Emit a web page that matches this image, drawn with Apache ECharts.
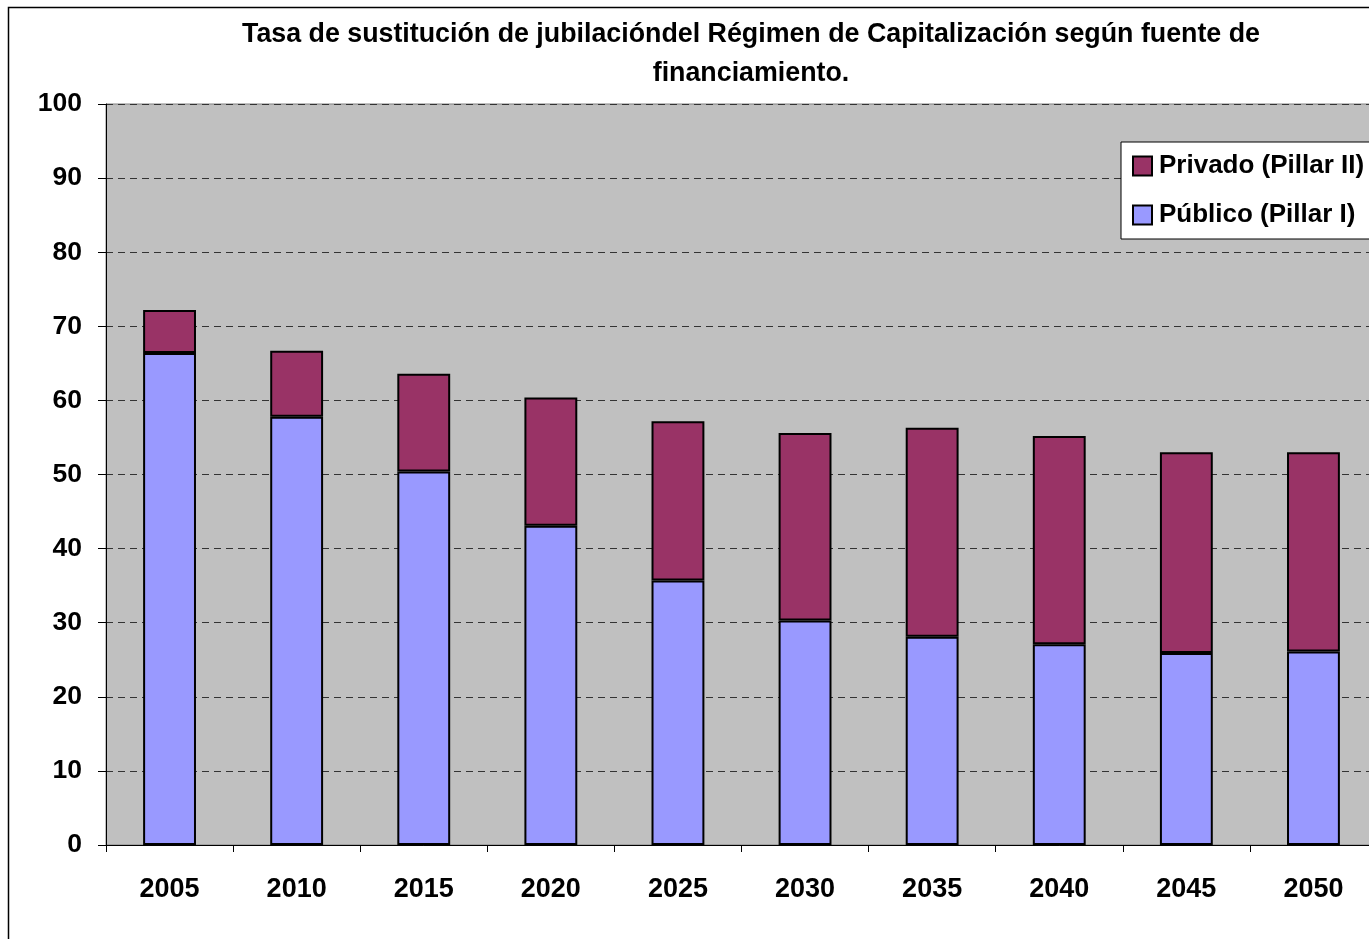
<!DOCTYPE html>
<html>
<head>
<meta charset="utf-8">
<script src="https://cdn.jsdelivr.net/npm/echarts@6/dist/echarts.min.js"></script>
<style>
html, body { margin: 0; padding: 0; background: #fff; overflow: hidden; }
#chart { width: 1377px; height: 939px; }
</style>
</head>
<body>
<div id="chart"></div>
<script>
var years = ['2005', '2010', '2015', '2020', '2025', '2030', '2035', '2040', '2045', '2050'];
// Público (Pillar I)
var publico = [66.4, 57.8, 50.4, 43.1, 35.7, 30.3, 28.1, 27.1, 25.9, 26.1];
// Privado (Pillar II), stacked on top
var privado = [5.8, 8.9, 13.2, 17.3, 21.5, 25.3, 28.2, 28.1, 27.1, 26.9];
var yTicks = [0, 10, 20, 30, 40, 50, 60, 70, 80, 90, 100];

var myChart = echarts.init(document.getElementById('chart'));
var font = 'Liberation Sans, Arial, sans-serif';

var option = {
    animation: false,
    backgroundColor: '#fff',
    title: {
        text: 'Tasa de sustitución de jubilacióndel Régimen de Capitalización según fuente de\nfinanciamiento.',
        left: 746,
        textAlign: 'center',
        top: 10,
        textStyle: {
            fontFamily: font,
            fontWeight: 'bold',
            fontSize: 26.8,
            lineHeight: 39,
            color: '#000'
        }
    },
    graphic: [{
        type: 'rect',
        shape: { x: 8.5, y: 7.5, width: 1400, height: 1000 },
        style: { fill: 'none', stroke: '#000', lineWidth: 1.5 },
        silent: true
    }],
    legend: {
        data: ['Privado (Pillar II)', 'Público (Pillar I)'],
        orient: 'vertical',
        left: 1121,
        top: 142,
        padding: [11, 8, 11, 11],
        itemGap: 23,
        itemWidth: 19,
        itemHeight: 19,
        icon: 'rect',
        backgroundColor: '#fff',
        borderColor: '#000',
        borderWidth: 1,
        textStyle: {
            fontFamily: font,
            fontWeight: 'bold',
            fontSize: 26,
            color: '#000',
            padding: [0, 0, 0, 2]
        }
    },
    grid: {
        left: 106,
        top: 104,
        right: 0,
        height: 741,
        show: true,
        backgroundColor: '#C0C0C0',
        borderColor: '#808080',
        borderWidth: 1
    },
    xAxis: {
        type: 'category',
        data: years,
        axisLine: { lineStyle: { color: '#000', width: 1 } },
        axisTick: { show: true, length: 7, lineStyle: { color: '#000' } },
        axisLabel: {
            margin: 31,
            fontFamily: font,
            fontWeight: 'bold',
            fontSize: 27,
            color: '#000'
        }
    },
    yAxis: {
        type: 'value',
        min: yTicks[0],
        max: yTicks[yTicks.length - 1],
        interval: 10,
        axisLine: { show: true, lineStyle: { color: '#000', width: 1 } },
        axisTick: { show: true, length: 8, lineStyle: { color: '#000' } },
        axisLabel: {
            margin: 24,
            fontFamily: font,
            fontWeight: 'bold',
            fontSize: 26.5,
            color: '#000'
        },
        splitLine: {
            show: true,
            lineStyle: { color: '#333', type: [7, 5], width: 1 }
        }
    },
    series: [
        {
            name: 'Público (Pillar I)',
            type: 'bar',
            stack: 'total',
            barWidth: '41.6%',
            data: publico,
            itemStyle: { color: '#9999FF', borderColor: '#000', borderWidth: 2 }
        },
        {
            name: 'Privado (Pillar II)',
            type: 'bar',
            stack: 'total',
            barWidth: '41.6%',
            data: privado,
            itemStyle: { color: '#993366', borderColor: '#000', borderWidth: 2 }
        }
    ]
};
myChart.setOption(option);
</script>
</body>
</html>
